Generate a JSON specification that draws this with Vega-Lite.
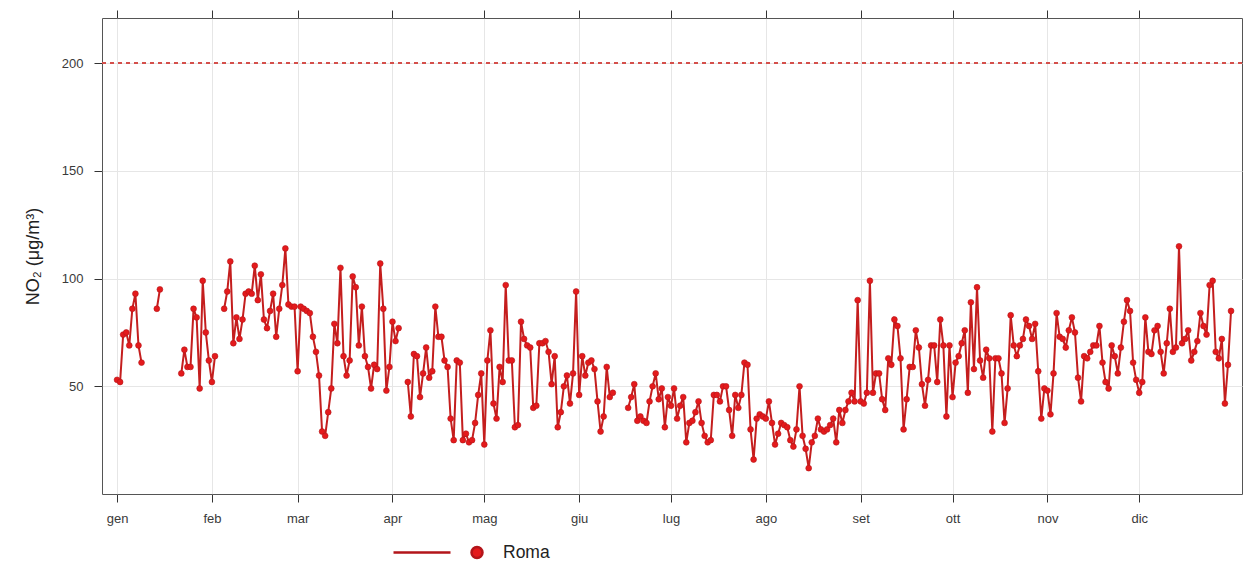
{
  "$schema": "https://vega.github.io/schema/vega-lite/v6.json",
  "width": 1140,
  "height": 476,
  "autosize": {"type": "none"},
  "padding": {"left": 102, "top": 18, "right": 3, "bottom": 67},
  "background": "white",
  "config": {
    "font": "Liberation Sans",
    "view": {"stroke": "#555555", "strokeWidth": 1},
    "axis": {
      "labelFont": "Liberation Sans",
      "titleFont": "Liberation Sans",
      "labelColor": "#3a3a3a",
      "titleColor": "#222222",
      "tickColor": "#333333",
      "domain": false
    }
  },
  "data": {
    "values": [
      {"date": "2019-01-01", "no2": 53}, {"date": "2019-01-02", "no2": 52}, {"date": "2019-01-03", "no2": 74}, {"date": "2019-01-04", "no2": 75},
      {"date": "2019-01-05", "no2": 69}, {"date": "2019-01-06", "no2": 86}, {"date": "2019-01-07", "no2": 93}, {"date": "2019-01-08", "no2": 69},
      {"date": "2019-01-09", "no2": 61}, {"date": "2019-01-10", "no2": null}, {"date": "2019-01-11", "no2": null}, {"date": "2019-01-12", "no2": null},
      {"date": "2019-01-13", "no2": null}, {"date": "2019-01-14", "no2": 86}, {"date": "2019-01-15", "no2": 95}, {"date": "2019-01-16", "no2": null},
      {"date": "2019-01-17", "no2": null}, {"date": "2019-01-18", "no2": null}, {"date": "2019-01-19", "no2": null}, {"date": "2019-01-20", "no2": null},
      {"date": "2019-01-21", "no2": null}, {"date": "2019-01-22", "no2": 56}, {"date": "2019-01-23", "no2": 67}, {"date": "2019-01-24", "no2": 59},
      {"date": "2019-01-25", "no2": 59}, {"date": "2019-01-26", "no2": 86}, {"date": "2019-01-27", "no2": 82}, {"date": "2019-01-28", "no2": 49},
      {"date": "2019-01-29", "no2": 99}, {"date": "2019-01-30", "no2": 75}, {"date": "2019-01-31", "no2": 62},
      {"date": "2019-02-01", "no2": 52}, {"date": "2019-02-02", "no2": 64}, {"date": "2019-02-03", "no2": null}, {"date": "2019-02-04", "no2": null},
      {"date": "2019-02-05", "no2": 86}, {"date": "2019-02-06", "no2": 94}, {"date": "2019-02-07", "no2": 108}, {"date": "2019-02-08", "no2": 70},
      {"date": "2019-02-09", "no2": 82}, {"date": "2019-02-10", "no2": 72}, {"date": "2019-02-11", "no2": 81}, {"date": "2019-02-12", "no2": 93},
      {"date": "2019-02-13", "no2": 94}, {"date": "2019-02-14", "no2": 93}, {"date": "2019-02-15", "no2": 106}, {"date": "2019-02-16", "no2": 90},
      {"date": "2019-02-17", "no2": 102}, {"date": "2019-02-18", "no2": 81}, {"date": "2019-02-19", "no2": 77}, {"date": "2019-02-20", "no2": 85},
      {"date": "2019-02-21", "no2": 93}, {"date": "2019-02-22", "no2": 73}, {"date": "2019-02-23", "no2": 86}, {"date": "2019-02-24", "no2": 97},
      {"date": "2019-02-25", "no2": 114}, {"date": "2019-02-26", "no2": 88}, {"date": "2019-02-27", "no2": 87}, {"date": "2019-02-28", "no2": 87},
      {"date": "2019-03-01", "no2": 57}, {"date": "2019-03-02", "no2": 87}, {"date": "2019-03-03", "no2": 86}, {"date": "2019-03-04", "no2": 85},
      {"date": "2019-03-05", "no2": 84}, {"date": "2019-03-06", "no2": 73}, {"date": "2019-03-07", "no2": 66}, {"date": "2019-03-08", "no2": 55},
      {"date": "2019-03-09", "no2": 29}, {"date": "2019-03-10", "no2": 27}, {"date": "2019-03-11", "no2": 38}, {"date": "2019-03-12", "no2": 49},
      {"date": "2019-03-13", "no2": 79}, {"date": "2019-03-14", "no2": 70}, {"date": "2019-03-15", "no2": 105}, {"date": "2019-03-16", "no2": 64},
      {"date": "2019-03-17", "no2": 55}, {"date": "2019-03-18", "no2": 62}, {"date": "2019-03-19", "no2": 101}, {"date": "2019-03-20", "no2": 96},
      {"date": "2019-03-21", "no2": 69}, {"date": "2019-03-22", "no2": 87}, {"date": "2019-03-23", "no2": 64}, {"date": "2019-03-24", "no2": 59},
      {"date": "2019-03-25", "no2": 49}, {"date": "2019-03-26", "no2": 60}, {"date": "2019-03-27", "no2": 58}, {"date": "2019-03-28", "no2": 107},
      {"date": "2019-03-29", "no2": 86}, {"date": "2019-03-30", "no2": 48}, {"date": "2019-03-31", "no2": 59},
      {"date": "2019-04-01", "no2": 80}, {"date": "2019-04-02", "no2": 71}, {"date": "2019-04-03", "no2": 77}, {"date": "2019-04-04", "no2": null},
      {"date": "2019-04-05", "no2": null}, {"date": "2019-04-06", "no2": 52}, {"date": "2019-04-07", "no2": 36}, {"date": "2019-04-08", "no2": 65},
      {"date": "2019-04-09", "no2": 64}, {"date": "2019-04-10", "no2": 45}, {"date": "2019-04-11", "no2": 56}, {"date": "2019-04-12", "no2": 68},
      {"date": "2019-04-13", "no2": 54}, {"date": "2019-04-14", "no2": 57}, {"date": "2019-04-15", "no2": 87}, {"date": "2019-04-16", "no2": 73},
      {"date": "2019-04-17", "no2": 73}, {"date": "2019-04-18", "no2": 62}, {"date": "2019-04-19", "no2": 59}, {"date": "2019-04-20", "no2": 35},
      {"date": "2019-04-21", "no2": 25}, {"date": "2019-04-22", "no2": 62}, {"date": "2019-04-23", "no2": 61}, {"date": "2019-04-24", "no2": 25},
      {"date": "2019-04-25", "no2": 28}, {"date": "2019-04-26", "no2": 24}, {"date": "2019-04-27", "no2": 25}, {"date": "2019-04-28", "no2": 33},
      {"date": "2019-04-29", "no2": 46}, {"date": "2019-04-30", "no2": 56},
      {"date": "2019-05-01", "no2": 23}, {"date": "2019-05-02", "no2": 62}, {"date": "2019-05-03", "no2": 76}, {"date": "2019-05-04", "no2": 42},
      {"date": "2019-05-05", "no2": 35}, {"date": "2019-05-06", "no2": 59}, {"date": "2019-05-07", "no2": 52}, {"date": "2019-05-08", "no2": 97},
      {"date": "2019-05-09", "no2": 62}, {"date": "2019-05-10", "no2": 62}, {"date": "2019-05-11", "no2": 31}, {"date": "2019-05-12", "no2": 32},
      {"date": "2019-05-13", "no2": 80}, {"date": "2019-05-14", "no2": 72}, {"date": "2019-05-15", "no2": 69}, {"date": "2019-05-16", "no2": 68},
      {"date": "2019-05-17", "no2": 40}, {"date": "2019-05-18", "no2": 41}, {"date": "2019-05-19", "no2": 70}, {"date": "2019-05-20", "no2": 70},
      {"date": "2019-05-21", "no2": 71}, {"date": "2019-05-22", "no2": 66}, {"date": "2019-05-23", "no2": 51}, {"date": "2019-05-24", "no2": 64},
      {"date": "2019-05-25", "no2": 31}, {"date": "2019-05-26", "no2": 38}, {"date": "2019-05-27", "no2": 50}, {"date": "2019-05-28", "no2": 55},
      {"date": "2019-05-29", "no2": 42}, {"date": "2019-05-30", "no2": 56}, {"date": "2019-05-31", "no2": 94},
      {"date": "2019-06-01", "no2": 46}, {"date": "2019-06-02", "no2": 64}, {"date": "2019-06-03", "no2": 55}, {"date": "2019-06-04", "no2": 61},
      {"date": "2019-06-05", "no2": 62}, {"date": "2019-06-06", "no2": 58}, {"date": "2019-06-07", "no2": 43}, {"date": "2019-06-08", "no2": 29},
      {"date": "2019-06-09", "no2": 36}, {"date": "2019-06-10", "no2": 59}, {"date": "2019-06-11", "no2": 45}, {"date": "2019-06-12", "no2": 47},
      {"date": "2019-06-13", "no2": null}, {"date": "2019-06-14", "no2": null}, {"date": "2019-06-15", "no2": null}, {"date": "2019-06-16", "no2": null},
      {"date": "2019-06-17", "no2": 40}, {"date": "2019-06-18", "no2": 45}, {"date": "2019-06-19", "no2": 51}, {"date": "2019-06-20", "no2": 34},
      {"date": "2019-06-21", "no2": 36}, {"date": "2019-06-22", "no2": 34}, {"date": "2019-06-23", "no2": 33}, {"date": "2019-06-24", "no2": 43},
      {"date": "2019-06-25", "no2": 50}, {"date": "2019-06-26", "no2": 56}, {"date": "2019-06-27", "no2": 44}, {"date": "2019-06-28", "no2": 49},
      {"date": "2019-06-29", "no2": 31}, {"date": "2019-06-30", "no2": 45},
      {"date": "2019-07-01", "no2": 41}, {"date": "2019-07-02", "no2": 49}, {"date": "2019-07-03", "no2": 35}, {"date": "2019-07-04", "no2": 41},
      {"date": "2019-07-05", "no2": 45}, {"date": "2019-07-06", "no2": 24}, {"date": "2019-07-07", "no2": 33}, {"date": "2019-07-08", "no2": 34},
      {"date": "2019-07-09", "no2": 38}, {"date": "2019-07-10", "no2": 43}, {"date": "2019-07-11", "no2": 33}, {"date": "2019-07-12", "no2": 27},
      {"date": "2019-07-13", "no2": 24}, {"date": "2019-07-14", "no2": 25}, {"date": "2019-07-15", "no2": 46}, {"date": "2019-07-16", "no2": 46},
      {"date": "2019-07-17", "no2": 43}, {"date": "2019-07-18", "no2": 50}, {"date": "2019-07-19", "no2": 50}, {"date": "2019-07-20", "no2": 39},
      {"date": "2019-07-21", "no2": 27}, {"date": "2019-07-22", "no2": 46}, {"date": "2019-07-23", "no2": 40}, {"date": "2019-07-24", "no2": 46},
      {"date": "2019-07-25", "no2": 61}, {"date": "2019-07-26", "no2": 60}, {"date": "2019-07-27", "no2": 30}, {"date": "2019-07-28", "no2": 16},
      {"date": "2019-07-29", "no2": 35}, {"date": "2019-07-30", "no2": 37}, {"date": "2019-07-31", "no2": 36},
      {"date": "2019-08-01", "no2": 35}, {"date": "2019-08-02", "no2": 43}, {"date": "2019-08-03", "no2": 33}, {"date": "2019-08-04", "no2": 23},
      {"date": "2019-08-05", "no2": 28}, {"date": "2019-08-06", "no2": 33}, {"date": "2019-08-07", "no2": 32}, {"date": "2019-08-08", "no2": 31},
      {"date": "2019-08-09", "no2": 25}, {"date": "2019-08-10", "no2": 22}, {"date": "2019-08-11", "no2": 30}, {"date": "2019-08-12", "no2": 50},
      {"date": "2019-08-13", "no2": 27}, {"date": "2019-08-14", "no2": 21}, {"date": "2019-08-15", "no2": 12}, {"date": "2019-08-16", "no2": 24},
      {"date": "2019-08-17", "no2": 27}, {"date": "2019-08-18", "no2": 35}, {"date": "2019-08-19", "no2": 30}, {"date": "2019-08-20", "no2": 29},
      {"date": "2019-08-21", "no2": 30}, {"date": "2019-08-22", "no2": 32}, {"date": "2019-08-23", "no2": 35}, {"date": "2019-08-24", "no2": 24},
      {"date": "2019-08-25", "no2": 39}, {"date": "2019-08-26", "no2": 33}, {"date": "2019-08-27", "no2": 39}, {"date": "2019-08-28", "no2": 43},
      {"date": "2019-08-29", "no2": 47}, {"date": "2019-08-30", "no2": 43}, {"date": "2019-08-31", "no2": 90},
      {"date": "2019-09-01", "no2": 43}, {"date": "2019-09-02", "no2": 42}, {"date": "2019-09-03", "no2": 47}, {"date": "2019-09-04", "no2": 99},
      {"date": "2019-09-05", "no2": 47}, {"date": "2019-09-06", "no2": 56}, {"date": "2019-09-07", "no2": 56}, {"date": "2019-09-08", "no2": 44},
      {"date": "2019-09-09", "no2": 39}, {"date": "2019-09-10", "no2": 63}, {"date": "2019-09-11", "no2": 60}, {"date": "2019-09-12", "no2": 81},
      {"date": "2019-09-13", "no2": 78}, {"date": "2019-09-14", "no2": 63}, {"date": "2019-09-15", "no2": 30}, {"date": "2019-09-16", "no2": 44},
      {"date": "2019-09-17", "no2": 59}, {"date": "2019-09-18", "no2": 59}, {"date": "2019-09-19", "no2": 76}, {"date": "2019-09-20", "no2": 68},
      {"date": "2019-09-21", "no2": 51}, {"date": "2019-09-22", "no2": 41}, {"date": "2019-09-23", "no2": 53}, {"date": "2019-09-24", "no2": 69},
      {"date": "2019-09-25", "no2": 69}, {"date": "2019-09-26", "no2": 52}, {"date": "2019-09-27", "no2": 81}, {"date": "2019-09-28", "no2": 69},
      {"date": "2019-09-29", "no2": 36}, {"date": "2019-09-30", "no2": 69},
      {"date": "2019-10-01", "no2": 45}, {"date": "2019-10-02", "no2": 61}, {"date": "2019-10-03", "no2": 64}, {"date": "2019-10-04", "no2": 70},
      {"date": "2019-10-05", "no2": 76}, {"date": "2019-10-06", "no2": 47}, {"date": "2019-10-07", "no2": 89}, {"date": "2019-10-08", "no2": 58},
      {"date": "2019-10-09", "no2": 96}, {"date": "2019-10-10", "no2": 62}, {"date": "2019-10-11", "no2": 54}, {"date": "2019-10-12", "no2": 67},
      {"date": "2019-10-13", "no2": 63}, {"date": "2019-10-14", "no2": 29}, {"date": "2019-10-15", "no2": 63}, {"date": "2019-10-16", "no2": 63},
      {"date": "2019-10-17", "no2": 56}, {"date": "2019-10-18", "no2": 33}, {"date": "2019-10-19", "no2": 49}, {"date": "2019-10-20", "no2": 83},
      {"date": "2019-10-21", "no2": 69}, {"date": "2019-10-22", "no2": 64}, {"date": "2019-10-23", "no2": 69}, {"date": "2019-10-24", "no2": 72},
      {"date": "2019-10-25", "no2": 81}, {"date": "2019-10-26", "no2": 78}, {"date": "2019-10-27", "no2": 72}, {"date": "2019-10-28", "no2": 79},
      {"date": "2019-10-29", "no2": 57}, {"date": "2019-10-30", "no2": 35}, {"date": "2019-10-31", "no2": 49},
      {"date": "2019-11-01", "no2": 48}, {"date": "2019-11-02", "no2": 37}, {"date": "2019-11-03", "no2": 56}, {"date": "2019-11-04", "no2": 84},
      {"date": "2019-11-05", "no2": 73}, {"date": "2019-11-06", "no2": 72}, {"date": "2019-11-07", "no2": 68}, {"date": "2019-11-08", "no2": 76},
      {"date": "2019-11-09", "no2": 82}, {"date": "2019-11-10", "no2": 75}, {"date": "2019-11-11", "no2": 54}, {"date": "2019-11-12", "no2": 43},
      {"date": "2019-11-13", "no2": 64}, {"date": "2019-11-14", "no2": 63}, {"date": "2019-11-15", "no2": 66}, {"date": "2019-11-16", "no2": 69},
      {"date": "2019-11-17", "no2": 69}, {"date": "2019-11-18", "no2": 78}, {"date": "2019-11-19", "no2": 61}, {"date": "2019-11-20", "no2": 52},
      {"date": "2019-11-21", "no2": 49}, {"date": "2019-11-22", "no2": 69}, {"date": "2019-11-23", "no2": 64}, {"date": "2019-11-24", "no2": 56},
      {"date": "2019-11-25", "no2": 68}, {"date": "2019-11-26", "no2": 80}, {"date": "2019-11-27", "no2": 90}, {"date": "2019-11-28", "no2": 85},
      {"date": "2019-11-29", "no2": 61}, {"date": "2019-11-30", "no2": 53},
      {"date": "2019-12-01", "no2": 47}, {"date": "2019-12-02", "no2": 52}, {"date": "2019-12-03", "no2": 82}, {"date": "2019-12-04", "no2": 66},
      {"date": "2019-12-05", "no2": 65}, {"date": "2019-12-06", "no2": 76}, {"date": "2019-12-07", "no2": 78}, {"date": "2019-12-08", "no2": 66},
      {"date": "2019-12-09", "no2": 56}, {"date": "2019-12-10", "no2": 70}, {"date": "2019-12-11", "no2": 86}, {"date": "2019-12-12", "no2": 66},
      {"date": "2019-12-13", "no2": 68}, {"date": "2019-12-14", "no2": 115}, {"date": "2019-12-15", "no2": 70}, {"date": "2019-12-16", "no2": 72},
      {"date": "2019-12-17", "no2": 76}, {"date": "2019-12-18", "no2": 62}, {"date": "2019-12-19", "no2": 66}, {"date": "2019-12-20", "no2": 71},
      {"date": "2019-12-21", "no2": 84}, {"date": "2019-12-22", "no2": 78}, {"date": "2019-12-23", "no2": 74}, {"date": "2019-12-24", "no2": 97},
      {"date": "2019-12-25", "no2": 99}, {"date": "2019-12-26", "no2": 66}, {"date": "2019-12-27", "no2": 63}, {"date": "2019-12-28", "no2": 72},
      {"date": "2019-12-29", "no2": 42}, {"date": "2019-12-30", "no2": 60}, {"date": "2019-12-31", "no2": 85}
    ]
  },
  "resolve": {"axis": {"x": "independent"}},
  "layer": [
    {
      "mark": {"type": "rule", "color": "#d4504c", "strokeWidth": 1, "strokeDash": [4, 4]},
      "encoding": {"y": {"datum": 200, "type": "quantitative"}}
    },
    {
      "mark": {"type": "line", "color": "#c41e1e", "strokeWidth": 2},
      "encoding": {
        "x": {
          "field": "date",
          "type": "temporal",
          "scale": {
            "type": "utc",
            "domain": [
              {"year": 2018, "month": 12, "date": 27, "hours": 2, "utc": true},
              {"year": 2020, "month": 1, "date": 3, "hours": 14, "utc": true}
            ]
          },
          "axis": {
            "orient": "bottom",
            "title": null,
            "values": [
              {"year": 2019, "month": 1, "date": 1, "utc": true}, {"year": 2019, "month": 2, "date": 1, "utc": true},
              {"year": 2019, "month": 3, "date": 1, "utc": true}, {"year": 2019, "month": 4, "date": 1, "utc": true},
              {"year": 2019, "month": 5, "date": 1, "utc": true}, {"year": 2019, "month": 6, "date": 1, "utc": true},
              {"year": 2019, "month": 7, "date": 1, "utc": true}, {"year": 2019, "month": 8, "date": 1, "utc": true},
              {"year": 2019, "month": 9, "date": 1, "utc": true}, {"year": 2019, "month": 10, "date": 1, "utc": true},
              {"year": 2019, "month": 11, "date": 1, "utc": true}, {"year": 2019, "month": 12, "date": 1, "utc": true}
            ],
            "labelExpr": "['gen','feb','mar','apr','mag','giu','lug','ago','set','ott','nov','dic'][utcmonth(datum.value)]",
            "labelFontSize": 13,
            "labelPadding": 10,
            "labelAlign": "center",
            "labelFlush": false,
            "tickSize": 8,
            "grid": true,
            "gridColor": "#e6e6e6",
            "gridWidth": 1
          }
        },
        "y": {
          "field": "no2",
          "type": "quantitative",
          "scale": {"domain": [0, 221], "nice": false, "zero": false},
          "axis": {
            "title": "NO₂ (μg/m³)",
            "titleFontSize": 18,
            "titleFontWeight": "normal",
            "titlePadding": 19,
            "values": [50, 100, 150, 200],
            "labelFontSize": 13,
            "labelPadding": 11,
            "tickSize": 8,
            "grid": true,
            "gridColor": "#e6e6e6",
            "gridWidth": 1
          }
        }
      }
    },
    {
      "mark": {"type": "point", "filled": true, "size": 34, "opacity": 1, "stroke": "#b3151a", "strokeWidth": 0.6},
      "encoding": {
        "x": {
          "field": "date",
          "type": "temporal",
          "axis": {
            "orient": "top",
            "title": null,
            "labels": false,
            "grid": false,
            "tickSize": 8,
            "values": [
              {"year": 2019, "month": 1, "date": 1, "utc": true}, {"year": 2019, "month": 2, "date": 1, "utc": true},
              {"year": 2019, "month": 3, "date": 1, "utc": true}, {"year": 2019, "month": 4, "date": 1, "utc": true},
              {"year": 2019, "month": 5, "date": 1, "utc": true}, {"year": 2019, "month": 6, "date": 1, "utc": true},
              {"year": 2019, "month": 7, "date": 1, "utc": true}, {"year": 2019, "month": 8, "date": 1, "utc": true},
              {"year": 2019, "month": 9, "date": 1, "utc": true}, {"year": 2019, "month": 10, "date": 1, "utc": true},
              {"year": 2019, "month": 11, "date": 1, "utc": true}, {"year": 2019, "month": 12, "date": 1, "utc": true}
            ]
          }
        },
        "y": {"field": "no2", "type": "quantitative"},
        "color": {
          "datum": "Roma",
          "type": "nominal",
          "scale": {"range": ["#e41a1c"]},
          "legend": {
            "title": null,
            "orient": "none",
            "legendX": 290,
            "legendY": 483,
            "padding": 0,
            "symbolType": "M-1,0L0.14,0M0.78,0A0.11,0.11,0,1,1,0.56,0A0.11,0.11,0,1,1,0.78,0Z",
            "symbolSize": 10000,
            "symbolStrokeWidth": 2.5,
            "labelFontSize": 17.5,
            "labelColor": "#222222",
            "labelOffset": 8,
            "encode": {
              "symbols": {
                "update": {
                  "stroke": {"value": "#b51d1d"},
                  "strokeWidth": {"value": 2.5},
                  "fill": {"value": "#e41a1c"},
                  "opacity": {"value": 1}
                }
              }
            }
          }
        }
      }
    }
  ]
}
